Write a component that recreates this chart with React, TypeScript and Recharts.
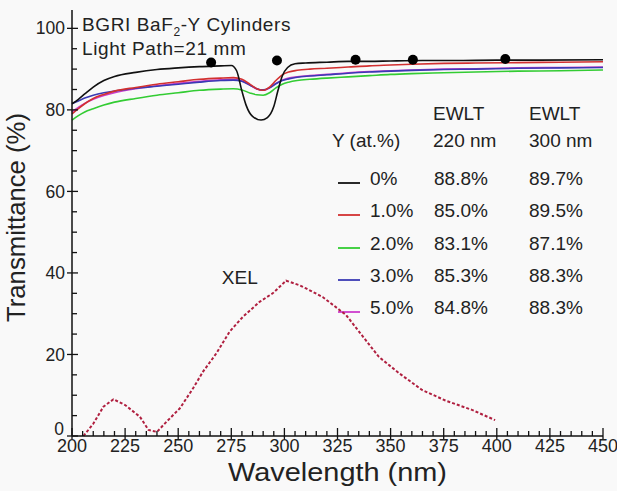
import React from "react";
import {
  ComposedChart,
  Customized,
  Line,
  ReferenceDot,
  Scatter,
  XAxis,
  YAxis,
} from "recharts";

const FONT = "'Liberation Sans', Arial, Helvetica, sans-serif";

// wavelength grid (nm) shared by the doped samples
const wl = [
  200, 203, 206, 210, 215, 220, 230, 240, 250, 260, 270, 276, 280, 284, 287,
  290, 293, 296, 299, 302, 306, 312, 320, 330, 340, 350, 360, 375, 390, 410,
  430, 450,
];
const t1 = [
  79.0, 80.3, 81.5, 82.8, 83.8, 84.6, 85.5, 86.3, 86.9, 87.5, 87.8, 87.9, 87.5,
  86.2, 85.2, 84.8, 85.6, 87.2, 88.6, 89.3, 89.7, 90.0, 90.2, 90.5, 90.8, 91.0,
  91.2, 91.4, 91.5, 91.6, 91.7, 91.8,
];
const t2 = [
  77.5, 78.6, 79.5, 80.3, 81.2, 81.9, 82.8, 83.6, 84.2, 84.8, 85.1, 85.2, 84.9,
  84.1, 83.7, 83.6, 84.2, 85.4, 86.3, 86.8, 87.2, 87.5, 87.8, 88.1, 88.4, 88.7,
  88.9, 89.1, 89.3, 89.5, 89.6, 89.8,
];
const t3 = [
  81.5, 82.2, 82.9, 83.6, 84.2, 84.6, 85.3, 85.8, 86.3, 86.8, 87.2, 87.3, 87.0,
  86.0, 85.2, 84.9, 85.4, 86.4, 87.2, 87.6, 88.0, 88.3, 88.6, 89.0, 89.3, 89.5,
  89.7, 89.9, 90.0, 90.2, 90.3, 90.4,
];
const t5 = [
  79.5, 80.6, 81.6, 82.6, 83.5, 84.2, 85.2, 85.9, 86.5, 87.0, 87.4, 87.5, 87.1,
  86.0, 85.1, 84.8, 85.4, 86.5, 87.3, 87.8, 88.1, 88.4, 88.7, 89.1, 89.4, 89.6,
  89.8, 90.0, 90.1, 90.3, 90.4, 90.5,
];

// undoped sample, sampled finer across the 290 nm absorption dip
const wl0 = [
  200, 203, 206, 210, 215, 220, 230, 240, 250, 260, 270, 275, 277.5, 280, 282,
  285, 289, 292, 295, 297, 299, 301.5, 305, 310, 320, 330, 340, 350, 365, 380,
  400, 420, 450,
];
const t0 = [
  81.5, 82.6, 83.9, 85.6, 87.2, 88.2, 89.2, 89.9, 90.3, 90.6, 90.8, 90.9, 89.6,
  84.6, 81.1, 78.4, 77.5, 78.1, 80.8, 84.8, 88.3, 90.4, 91.3, 91.5, 91.7, 91.9,
  91.9, 92.0, 92.1, 92.1, 92.2, 92.2, 92.3,
];

// x-ray excited luminescence (arb.)
const xelNm = [
  205.4, 210, 214.8, 219.5, 225, 232, 236, 240, 244.5, 250.8, 257, 261.7, 268,
  274.2, 280.4, 288.3, 294.5, 300.8, 307, 310.2, 318, 329, 338.3, 344.5, 354,
  364.8, 375.8, 388.3, 399.2,
];
const xelVal = [
  0, 3, 7.2, 9.0, 7.6, 4.7, 1.5, 1.0, 3.5, 6.8, 11.7, 15.8, 20.3, 25.6, 29.2,
  32.9, 35, 38.1, 37, 36.2, 34.1, 29.7, 23.5, 19.4, 15.4, 11.3, 8.7, 6.4, 3.9,
];

// black marker dots
const dotNm = [265.5, 296.5, 333.5, 360.5, 404];
const dotVal = [91.6, 92.1, 92.3, 92.3, 92.5];

const xMajor = [200, 225, 250, 275, 300, 325, 350, 375, 400, 425, 450];
const yMajor = [0, 20, 40, 60, 80, 100];

const sampleLabels = ["0%", "1.0%", "2.0%", "3.0%", "5.0%"];
const ewlt220 = ["88.8%", "85.0%", "83.1%", "85.3%", "84.8%"];
const ewlt300 = ["89.7%", "89.5%", "87.1%", "88.3%", "88.3%"];
const sampleColors = ["#111111", "#d23030", "#33cc33", "#3a3ab4", "#cc3ccc"];

const zip = (xs: number[], ys: number[]) =>
  xs.map((nm, i) => ({ nm, t: ys[i] }));

const series = [
  { name: "0%", data: zip(wl0, t0), color: sampleColors[0] },
  { name: "1.0%", data: zip(wl, t1), color: sampleColors[1] },
  { name: "2.0%", data: zip(wl, t2), color: sampleColors[2] },
  { name: "3.0%", data: zip(wl, t3), color: sampleColors[3] },
  { name: "5.0%", data: zip(wl, t5), color: sampleColors[4] },
];
const xelData = zip(xelNm, xelVal);
const dotData = zip(dotNm, dotVal);

const xTicks: number[] = [];
for (let v = 200; v <= 450; v += 5) xTicks.push(v);
const yTicks: number[] = [];
for (let v = 0; v <= 100; v += 5) yTicks.push(v);

const AX = "#111";

function BottomTick({ x, y, payload }: any) {
  const major = xMajor.includes(payload.value);
  return (
    <g>
      <line x1={x} x2={x} y1={y + (major ? 3 : 0)} y2={y - (major ? 8 : 5)} stroke={AX} strokeWidth={1.3} />
      {major && (
        <text x={x} y={y + 16} textAnchor="middle" fontSize={18} fontFamily={FONT} fill="#222">
          {payload.value}
        </text>
      )}
    </g>
  );
}

function TopTick({ x, y, payload }: any) {
  const major = xMajor.includes(payload.value);
  return <line x1={x} x2={x} y1={y} y2={y + (major ? 8 : 5)} stroke={AX} strokeWidth={1.3} />;
}

function LeftTick({ x, y, payload }: any) {
  const major = yMajor.includes(payload.value);
  return (
    <g>
      <line x1={x - (major ? 5 : 0)} x2={x + (major ? 6 : 5)} y1={y} y2={y} stroke={AX} strokeWidth={1.3} />
      {major && (
        <text
          x={payload.value === 0 ? x - 8 : x - 7}
          y={payload.value === 0 ? y - 7 : y}
          dy="0.35em"
          textAnchor="end"
          fontSize={17.5}
          fontFamily={FONT}
          fill="#222"
        >
          {payload.value}
        </text>
      )}
    </g>
  );
}

function RightTick({ x, y, payload }: any) {
  const major = yMajor.includes(payload.value);
  return <line x1={x} x2={x - (major ? 8 : 5)} y1={y} y2={y} stroke={AX} strokeWidth={1.3} />;
}

function Annotations() {
  const txt = { fontFamily: FONT, fontSize: 19, fill: "#222" };
  const rowY = [185, 217, 250, 282, 314];
  return (
    <g>
      <text x={82} y={31} {...txt} letterSpacing={0.6}>
        BGRI BaF
        <tspan fontSize={12} dy={5}>2</tspan>
        <tspan dy={-5}>-Y Cylinders</tspan>
      </text>
      <text x={82} y={55} {...txt} letterSpacing={0.6}>Light Path=21 mm</text>

      <text x={433} y={120} {...txt}>EWLT</text>
      <text x={529} y={120} {...txt}>EWLT</text>
      <text x={332} y={147} {...txt}>Y (at.%)</text>
      <text x={433} y={147} {...txt}>220 nm</text>
      <text x={529} y={147} {...txt}>300 nm</text>

      {sampleLabels.map((s, i) => (
        <g key={s}>
          <line x1={338} x2={360} y1={rowY[i] - 2} y2={rowY[i] - 2} stroke={sampleColors[i]} strokeWidth={1.8} />
          <text x={370} y={rowY[i]} {...txt}>{s}</text>
          <text x={434} y={rowY[i]} {...txt}>{ewlt220[i]}</text>
          <text x={529} y={rowY[i]} {...txt}>{ewlt300[i]}</text>
        </g>
      ))}

      <text
        x={228}
        y={481}
        fontFamily={FONT}
        fontSize={25}
        textLength={219}
        lengthAdjust="spacingAndGlyphs"
        fill="#222"
      >
        Wavelength (nm)
      </text>
      <text
        transform="translate(25,322) rotate(-90)"
        fontFamily={FONT}
        fontSize={26}
        textLength={209}
        lengthAdjust="spacingAndGlyphs"
        fill="#222"
      >
        Transmittance (%)
      </text>
    </g>
  );
}

export default function App() {
  return (
    <div style={{ position: "absolute", left: 0, top: 0, width: 617, height: 491, background: "#f9f9f9" }}>
      <ComposedChart width={617} height={491} margin={{ top: 10, right: 14, left: 0, bottom: 0 }}>
        <XAxis
          xAxisId="b"
          type="number"
          dataKey="nm"
          domain={[200, 450]}
          ticks={xTicks}
          interval={0}
          height={55}
          tickSize={0}
          tickMargin={0}
          tickLine={false}
          tick={<BottomTick />}
          axisLine={{ stroke: AX, strokeWidth: 1.5 }}
        />
        <XAxis
          xAxisId="t"
          orientation="top"
          type="number"
          dataKey="nm"
          domain={[200, 450]}
          ticks={xTicks}
          interval={0}
          height={0}
          tickSize={0}
          tickMargin={0}
          tickLine={false}
          tick={<TopTick />}
          axisLine={{ stroke: AX, strokeWidth: 1.5 }}
        />
        <YAxis
          yAxisId="l"
          type="number"
          domain={[0, 104.5]}
          ticks={yTicks}
          interval={0}
          width={72}
          tickSize={0}
          tickMargin={0}
          tickLine={false}
          tick={<LeftTick />}
          axisLine={{ stroke: AX, strokeWidth: 1.5 }}
        />
        <YAxis
          yAxisId="r"
          orientation="right"
          type="number"
          domain={[0, 104.5]}
          ticks={yTicks}
          interval={0}
          width={0}
          tickSize={0}
          tickMargin={0}
          tickLine={false}
          tick={<RightTick />}
          axisLine={{ stroke: AX, strokeWidth: 1.5 }}
        />

        <Line
          xAxisId="b"
          yAxisId="l"
          data={xelData}
          dataKey="t"
          type="linear"
          stroke="#b02040"
          strokeWidth={2}
          strokeDasharray="3 2"
          dot={false}
          isAnimationActive={false}
        />
        {series
          .slice()
          .reverse()
          .map((s) => (
            <Line
              key={s.name}
              xAxisId="b"
              yAxisId="l"
              data={s.data}
              dataKey="t"
              name={s.name}
              type="monotone"
              stroke={s.color}
              strokeWidth={1.6}
              dot={false}
              isAnimationActive={false}
            />
          ))}
        <Scatter
          xAxisId="b"
          yAxisId="l"
          data={dotData}
          dataKey="t"
          fill="#000"
          shape={(p: any) => <circle cx={p.cx} cy={p.cy} r={5} fill="#000" />}
          isAnimationActive={false}
        />
        <ReferenceDot
          xAxisId="b"
          yAxisId="l"
          x={279}
          y={39}
          r={0}
          fill="none"
          stroke="none"
          label={{ value: "XEL", position: "center", fontSize: 19, fill: "#222", fontFamily: FONT }}
        />
        <Customized component={<Annotations />} />
      </ComposedChart>
    </div>
  );
}
